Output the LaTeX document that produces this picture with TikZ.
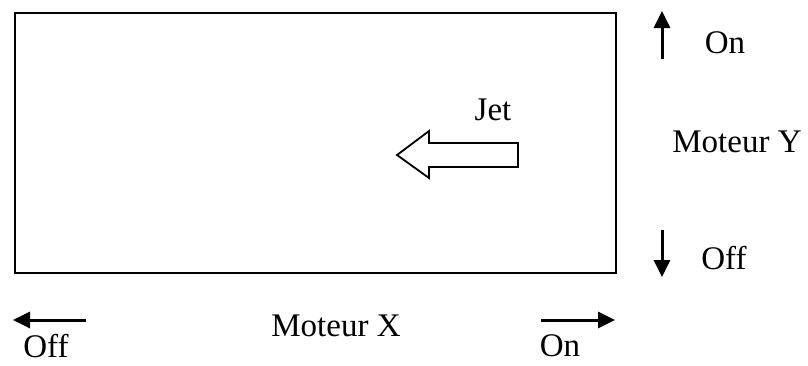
\documentclass[tikz,border=0pt]{standalone}
\usepackage{fontspec}
\setmainfont{Liberation Serif}
\usetikzlibrary{arrows.meta}
\begin{document}
\begin{tikzpicture}[x=1pt,y=-1pt,
  lbl/.style={inner sep=0pt,font=\fontsize{33}{40}\selectfont},
  arr/.style={line width=3pt,-{Triangle[length=17pt,width=16pt]}}]
\useasboundingbox (0,0) rectangle (808,365);
\node[draw,line width=2pt,minimum width=601pt,minimum height=260pt,anchor=north west,inner sep=0pt] (box) at (13.5,12) {};
% jet arrow
\draw[line width=1.8pt] (397,155) -- (429,131) -- (429,143) -- (518,143) -- (518,167) -- (429,167) -- (429,178) -- cycle;
\node[lbl] (jet) at (493,110) {Jet};
% Moteur Y
\coordinate (yu0) at (662,59);
\coordinate (yu1) at (662,11);
\draw[arr] (yu0) -- (yu1);
\node[lbl] (yon) at (725,43) {On};
\node[lbl] (my) at (737,142) {Moteur Y};
\coordinate (yd0) at (662,230);
\coordinate (yd1) at (662,277);
\draw[arr] (yd0) -- (yd1);
\node[lbl] (yoff) at (724,258) {Off};
% Moteur X
\coordinate (xl0) at (86,320);
\coordinate (xl1) at (13,320);
\draw[arr] (xl0) -- (xl1);
\node[lbl] (xoff) at (46,346) {Off};
\node[lbl] (mx) at (336,326) {Moteur X};
\coordinate (xr0) at (541,320);
\coordinate (xr1) at (615,320);
\draw[arr] (xr0) -- (xr1);
\node[lbl] (xon) at (560,346) {On};
\end{tikzpicture}
\end{document}
